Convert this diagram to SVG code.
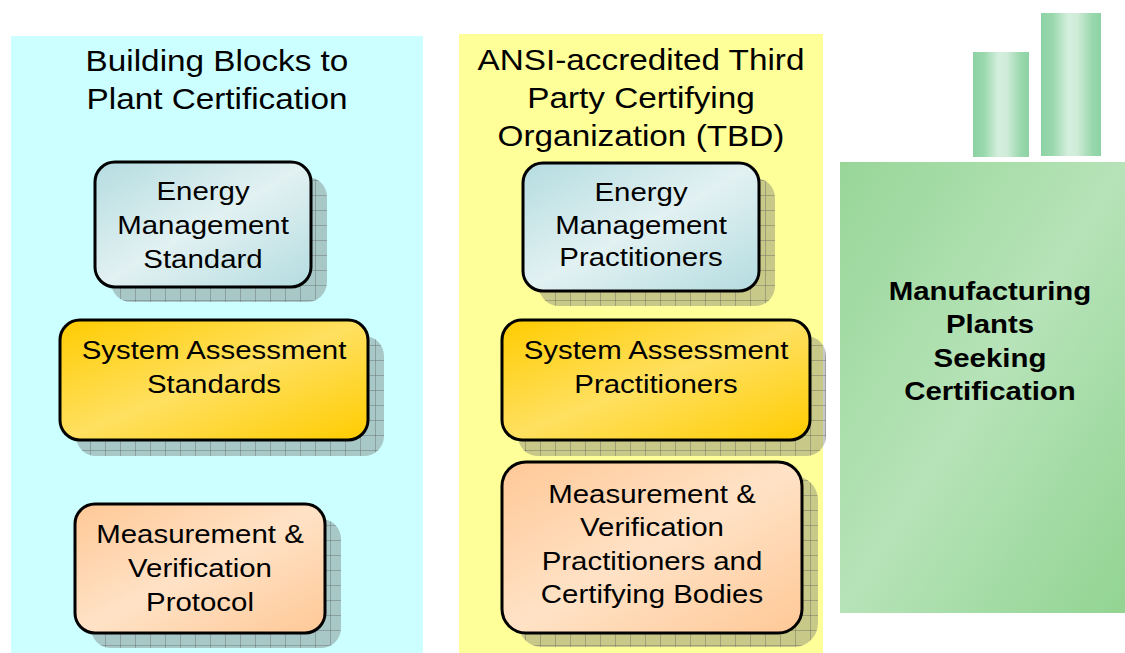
<svg xmlns="http://www.w3.org/2000/svg" width="1125" height="653" viewBox="0 0 1125 653">
<style>
.title{font-family:"Liberation Sans",Arial,sans-serif;font-size:30px;fill:#000;text-anchor:middle}
.lbl{font-family:"Liberation Sans",Arial,sans-serif;font-size:26.5px;fill:#000;text-anchor:middle}
.bold{font-family:"Liberation Sans",Arial,sans-serif;font-size:26.5px;font-weight:bold;fill:#000;text-anchor:middle}
.box{stroke:#000;stroke-width:3}
.shadow{fill:url(#grid)}
</style>
<defs>
<pattern id="grid" patternUnits="userSpaceOnUse" width="15" height="15">
<rect width="15" height="15" fill="#6e6e6e" fill-opacity="0.38"/>
<path d="M0.5 0V15M0 0.5H15" stroke="#555" stroke-opacity="0.35" stroke-width="1" fill="none"/>
</pattern>
<linearGradient id="gCyan" x1="0" y1="0" x2="1" y2="1">
<stop offset="0" stop-color="#b4dce0"/>
<stop offset="0.5" stop-color="#e2f1f2"/>
<stop offset="1" stop-color="#b4dce0"/>
</linearGradient>
<linearGradient id="gGold" x1="0" y1="0" x2="1" y2="1">
<stop offset="0" stop-color="#ffcc00"/>
<stop offset="0.5" stop-color="#ffe060"/>
<stop offset="1" stop-color="#ffcc00"/>
</linearGradient>
<linearGradient id="gPeach" x1="0" y1="0" x2="1" y2="1">
<stop offset="0" stop-color="#ffc896"/>
<stop offset="0.5" stop-color="#ffe2c6"/>
<stop offset="1" stop-color="#ffc896"/>
</linearGradient>
<linearGradient id="gGreen" x1="0" y1="0" x2="1" y2="1">
<stop offset="0" stop-color="#98d698"/>
<stop offset="0.5" stop-color="#b6e3b8"/>
<stop offset="1" stop-color="#92d492"/>
</linearGradient>
<linearGradient id="gBar" x1="0" y1="0" x2="1" y2="0">
<stop offset="0" stop-color="#8cd2a4"/>
<stop offset="0.2" stop-color="#9ad8ad"/>
<stop offset="0.45" stop-color="#d4eedd"/>
<stop offset="0.6" stop-color="#d0ecd9"/>
<stop offset="0.85" stop-color="#9ad8ad"/>
<stop offset="1" stop-color="#8cd2a4"/>
</linearGradient>
</defs>
<rect width="1125" height="653" fill="#fff"/>
<g id="panel-building-blocks">
<rect x="11" y="36" width="412" height="617" fill="#ccffff"/>
<g transform="translate(217 0) scale(1.11 1)">
<text class="title" x="0" y="71">Building Blocks to</text>
<text class="title" x="0" y="109">Plant Certification</text>
</g>
</g>
<g id="panel-ansi">
<rect x="459" y="34" width="364" height="619" fill="#ffff99"/>
<g transform="translate(641 0) scale(1.11 1)">
<text class="title" x="0" y="70">ANSI-accredited Third</text>
<text class="title" x="0" y="108">Party Certifying</text>
<text class="title" x="0" y="146">Organization (TBD)</text>
</g>
</g>
<g id="node-em-standard">
<rect class="shadow" x="111" y="177" width="216" height="125" rx="20"/>
<rect class="box" x="95" y="162" width="216" height="125" rx="20" fill="url(#gCyan)"/>
<g transform="translate(203 0) scale(1.11 1)">
<text class="lbl" x="0" y="200">Energy</text>
<text class="lbl" x="0" y="234">Management</text>
<text class="lbl" x="0" y="268">Standard</text>
</g>
</g>
<g id="node-sa-standards">
<rect class="shadow" x="76" y="336" width="308" height="120" rx="20"/>
<rect class="box" x="60" y="320" width="308" height="120" rx="20" fill="url(#gGold)"/>
<g transform="translate(214 0) scale(1.11 1)">
<text class="lbl" x="0" y="359">System Assessment</text>
<text class="lbl" x="0" y="393">Standards</text>
</g>
</g>
<g id="node-mv-protocol">
<rect class="shadow" x="91" y="519" width="250" height="129" rx="20"/>
<rect class="box" x="75" y="504" width="250" height="129" rx="20" fill="url(#gPeach)"/>
<g transform="translate(200 0) scale(1.11 1)">
<text class="lbl" x="0" y="543">Measurement &amp;</text>
<text class="lbl" x="0" y="577">Verification</text>
<text class="lbl" x="0" y="611">Protocol</text>
</g>
</g>
<g id="node-em-practitioners">
<rect class="shadow" x="539" y="178" width="236" height="128" rx="20"/>
<rect class="box" x="523" y="163" width="236" height="128" rx="20" fill="url(#gCyan)"/>
<g transform="translate(641 0) scale(1.11 1)">
<text class="lbl" x="0" y="201">Energy</text>
<text class="lbl" x="0" y="234">Management</text>
<text class="lbl" x="0" y="266">Practitioners</text>
</g>
</g>
<g id="node-sa-practitioners">
<rect class="shadow" x="518" y="336" width="308" height="120" rx="20"/>
<rect class="box" x="502" y="320" width="308" height="120" rx="20" fill="url(#gGold)"/>
<g transform="translate(656 0) scale(1.11 1)">
<text class="lbl" x="0" y="359">System Assessment</text>
<text class="lbl" x="0" y="393">Practitioners</text>
</g>
</g>
<g id="node-mv-practitioners">
<rect class="shadow" x="518" y="476" width="300" height="171" rx="24"/>
<rect class="box" x="502" y="462" width="300" height="171" rx="24" fill="url(#gPeach)"/>
<g transform="translate(652 0) scale(1.11 1)">
<text class="lbl" x="0" y="503">Measurement &amp;</text>
<text class="lbl" x="0" y="536">Verification</text>
<text class="lbl" x="0" y="570">Practitioners and</text>
<text class="lbl" x="0" y="603">Certifying Bodies</text>
</g>
</g>
<g id="node-plants">
<rect x="973" y="52" width="56" height="105" fill="url(#gBar)"/>
<rect x="1041" y="13" width="60" height="143" fill="url(#gBar)"/>
<rect x="840" y="162" width="285" height="451" fill="url(#gGreen)"/>
<g transform="translate(990 0) scale(1.11 1)">
<text class="bold" x="0" y="300">Manufacturing</text>
<text class="bold" x="0" y="333">Plants</text>
<text class="bold" x="0" y="367">Seeking</text>
<text class="bold" x="0" y="400">Certification</text>
</g>
</g>
<g id="connectors"/>
</svg>
